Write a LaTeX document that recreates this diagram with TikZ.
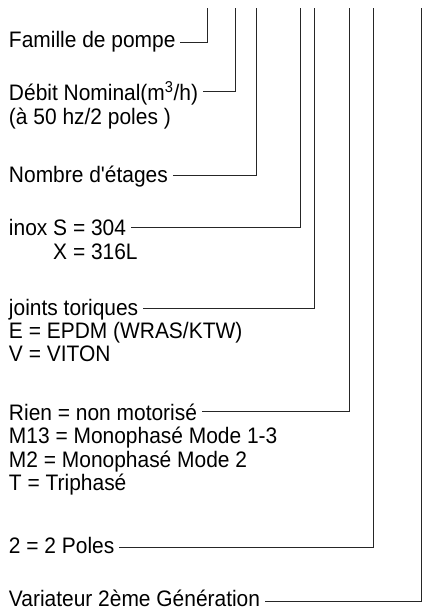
\documentclass[tikz,border=0pt]{standalone}
\usepackage{fontspec}
\setmainfont[FakeStretch=0.935,Ligatures=TeXOff]{Liberation Sans}
\begin{document}
\begin{tikzpicture}[x=1pt,y=-1pt,
  lbl/.style={anchor=base west, inner sep=0pt, outer xsep=5pt, font=\fontsize{22.4}{23.5}\selectfont},
  conn/.style={line width=1pt, draw=black!85}]
\useasboundingbox (0,0) rectangle (422,610);
% labels
\node[lbl] (fam) at (4,48) {Famille de pompe};
\node[lbl] (deb) at (4,100) {Débit Nominal(m\textsuperscript{3}/h)};
\node[lbl] (deb2) at (4,124) {(à 50 hz/2 poles )};
\node[lbl] (nom) at (4,182) {Nombre d'étages};
\node[lbl] (inox) at (4,235) {inox S = 304};
\node[lbl] (inox2) at (4,259) {\hphantom{inox }X = 316L};
\node[lbl] (joi) at (4,315) {joints toriques};
\node[lbl] (joi2) at (4,338) {E = EPDM (WRAS/KTW)};
\node[lbl] (joi3) at (4,361) {V = VITON};
\node[lbl] (rien) at (4,420) {Rien = non motorisé};
\node[lbl] (rien2) at (4,443) {M13 = Monophasé Mode 1-3};
\node[lbl] (rien3) at (4,467) {M2 = Monophasé Mode 2};
\node[lbl] (rien4) at (4,490) {T = Triphasé};
\node[lbl] (pol) at (4,553) {2 = 2 Poles};
\node[lbl] (var) at (4,606) {Variateur 2ème Génération};
% corners and top ends
\coordinate (cfam) at (207,43);  \coordinate (tfam) at (207,8);
\coordinate (cdeb) at (235.5,91); \coordinate (tdeb) at (235.5,8);
\coordinate (cnom) at (256.5,175); \coordinate (tnom) at (256.5,8);
\coordinate (cinox) at (300,227); \coordinate (tinox) at (300,8);
\coordinate (cjoi) at (314,308); \coordinate (tjoi) at (314,8);
\coordinate (crien) at (349,411); \coordinate (trien) at (349,8);
\coordinate (cpol) at (373.5,547); \coordinate (tpol) at (373.5,8);
\coordinate (cvar) at (421,601); \coordinate (tvar) at (421,8);
% connectors
\draw[conn] (fam.east |- cfam) -- (cfam) -- (tfam);
\draw[conn] (deb.east |- cdeb) -- (cdeb) -- (tdeb);
\draw[conn] (nom.east |- cnom) -- (cnom) -- (tnom);
\draw[conn] (inox.east |- cinox) -- (cinox) -- (tinox);
\draw[conn] (joi.east |- cjoi) -- (cjoi) -- (tjoi);
\draw[conn] (rien.east |- crien) -- (crien) -- (trien);
\draw[conn] (pol.east |- cpol) -- (cpol) -- (tpol);
\draw[conn] (var.east |- cvar) -- (cvar) -- (tvar);
\end{tikzpicture}
\end{document}
